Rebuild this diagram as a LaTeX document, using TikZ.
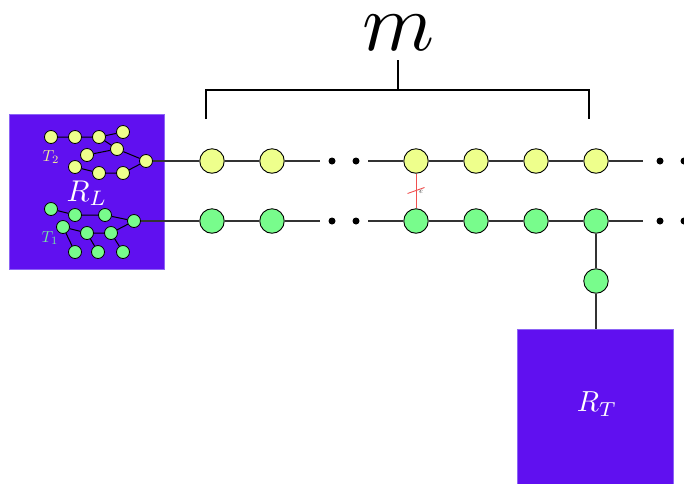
\documentclass[tikz,border=0pt]{standalone}
\usepackage{graphicx}
\definecolor{boxfill}{RGB}{96,16,240}
\definecolor{boxdraw}{RGB}{140,100,245}
\definecolor{yel}{RGB}{238,255,140}
\definecolor{grn}{RGB}{120,252,140}
\definecolor{edgered}{RGB}{240,80,80}
\definecolor{lbly}{RGB}{240,240,150}
\definecolor{lblg}{RGB}{120,235,160}
\tikzset{
  big/.style={circle,draw=black,line width=0.9pt,minimum size=24.5pt,inner sep=0pt},
  small/.style={circle,draw=black,line width=0.8pt,minimum size=13pt,inner sep=0pt},
  dotn/.style={circle,fill=black,minimum size=7pt,inner sep=0pt},
  wire/.style={line width=1.1pt,draw=black!80},
  twire/.style={line width=1pt,draw=black},
  region/.style={draw=boxdraw,fill=boxfill,line width=0.8pt,inner sep=0pt},
  brace/.style={line width=1.7pt,draw=black},
}
\begin{document}
\begin{tikzpicture}[x=1pt,y=-1pt]
\useasboundingbox (0,0) rectangle (684,483);
% regions
\node[region,minimum width=155pt,minimum height=155pt] (RL) at (86.5,191.5) {};
\node[region,minimum width=156pt,minimum height=156pt] (RT) at (595,407) {};
\node[text=white] (RLlab) at (87,193) {\scalebox{3}{$R_L$}};
\node[text=white] (RTlab) at (597,404) {\scalebox{2.9}{$R_T$}};
\node[text=lbly] (T2) at (51,157) {\scalebox{1.6}{$T_2$}};
\node[text=lblg] (T1) at (50,238) {\scalebox{1.6}{$T_1$}};
% yellow tree
\node[small,fill=yel] (a1) at (51,137) {};
\node[small,fill=yel] (a2) at (75,137) {};
\node[small,fill=yel] (a3) at (99,137) {};
\node[small,fill=yel] (a4) at (123,132) {};
\node[small,fill=yel] (a5) at (117,149) {};
\node[small,fill=yel] (a6) at (87,155) {};
\node[small,fill=yel] (a7) at (75,167) {};
\node[small,fill=yel] (a8) at (99,173) {};
\node[small,fill=yel] (a9) at (123,173) {};
\node[small,fill=yel] (a10) at (146,161) {};
\draw[twire] (a1)--(a2) (a2)--(a3) (a3)--(a4) (a3)--(a5) (a6)--(a5) (a5)--(a10)
  (a7)--(a8) (a8)--(a9) (a9)--(a10);
% green tree
\node[small,fill=grn] (g1) at (51,209) {};
\node[small,fill=grn] (g2) at (75,215) {};
\node[small,fill=grn] (g3) at (105,215) {};
\node[small,fill=grn] (g4) at (134,221) {};
\node[small,fill=grn] (g5) at (63,227) {};
\node[small,fill=grn] (g6) at (87,233) {};
\node[small,fill=grn] (g7) at (111,233) {};
\node[small,fill=grn] (g8) at (75,252) {};
\node[small,fill=grn] (g9) at (98,252) {};
\node[small,fill=grn] (g10) at (123,252) {};
\draw[twire] (g1)--(g2) (g2)--(g3) (g3)--(g4) (g5)--(g6) (g6)--(g7) (g7)--(g4)
  (g5)--(g8) (g6)--(g9) (g7)--(g10);
% rows
\foreach \i/\x in {1/212,2/272,3/416,4/476,5/536,6/596}{
  \node[big,fill=yel] (t\i) at (\x,161) {};
  \node[big,fill=grn] (b\i) at (\x,221) {};
}
\node[big,fill=grn] (x1) at (596,281) {};
% dots and free ends
\foreach \r/\y in {t/161,b/221}{
  \coordinate (\r c1) at (320,\y);
  \coordinate (\r c2) at (368,\y);
  \coordinate (\r c3) at (643,\y);
  \node[dotn] (\r d1) at (332,\y) {};
  \node[dotn] (\r d2) at (356,\y) {};
  \node[dotn] (\r d3) at (660,\y) {};
  \node[dotn] (\r d4) at (684,\y) {};
}
\draw[wire] (a10)--(t1) (t1)--(t2) (t2)--(tc1) (tc2)--(t3) (t3)--(t4) (t4)--(t5) (t5)--(t6) (t6)--(tc3);
\draw[wire] (g4)--(b1) (b1)--(b2) (b2)--(bc1) (bc2)--(b3) (b3)--(b4) (b4)--(b5) (b5)--(b6) (b6)--(bc3);
\draw[wire] (b6)--(x1) (x1)--(x1 |- RT.north);
% red edge
\draw[edgered,line width=0.9pt] (t3) -- coordinate[pos=0.5] (em) (b3);
\draw[edgered,line width=0.9pt] ([shift={(-8.5,2.5)}]em) -- ([shift={(8.5,-3.5)}]em);
\node (elab) at (421,192) {\scalebox{0.75}{$e$}};
% bracket
\coordinate (br1) at (206,119);
\coordinate (br2) at (206,90);
\coordinate (br3) at (589,90);
\coordinate (br4) at (589,119);
\coordinate (brm) at (398,90);
\coordinate (brt) at (398,60);
\draw[brace] (br1)--(br2)--(br3)--(br4);
\draw[brace] (brm)--(brt);
\node[anchor=base,inner sep=0pt] (mlab) at (398,50) {\scalebox{8.2}{$m$}};
\end{tikzpicture}
\end{document}
